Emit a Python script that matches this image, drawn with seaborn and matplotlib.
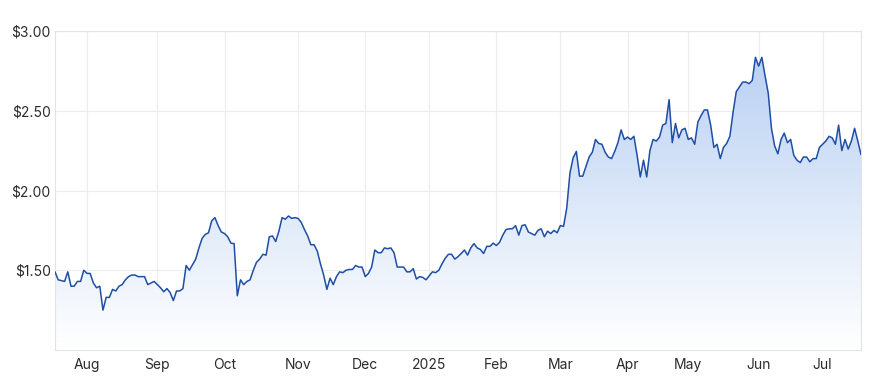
import numpy as np
import pandas as pd
import matplotlib
matplotlib.use("Agg")
import matplotlib.pyplot as plt
import seaborn as sns
from matplotlib.colors import LinearSegmentedColormap
from matplotlib.patches import PathPatch
from matplotlib.path import Path

# ---------------- data ----------------
start_date = "2024-07-18"
end_date = "2025-07-17"
asx_holidays = ["2024-12-25", "2024-12-26", "2025-01-01", "2025-01-27",
                "2025-04-18", "2025-04-21", "2025-04-25", "2025-06-09"]

prices_2024 = [
    1.49, 1.44, 1.435, 1.43, 1.49, 1.40, 1.40, 1.43, 1.43, 1.50, 1.48, 1.48, 1.42, 1.39,
    1.40, 1.25, 1.33, 1.33, 1.38, 1.37, 1.40, 1.41, 1.44, 1.46, 1.47, 1.47, 1.46, 1.46,
    1.46, 1.41, 1.42, 1.43, 1.41, 1.39, 1.365, 1.385, 1.36, 1.31, 1.37, 1.37, 1.385, 1.53,
    1.50, 1.535, 1.57, 1.64, 1.70, 1.725, 1.735, 1.81, 1.83, 1.78, 1.74, 1.73, 1.71, 1.67,
    1.667, 1.34, 1.44, 1.41, 1.43, 1.44, 1.50, 1.55, 1.57, 1.60, 1.595, 1.71, 1.715, 1.68,
    1.745, 1.83, 1.82, 1.84, 1.825, 1.83, 1.825, 1.80, 1.755, 1.715, 1.66, 1.66, 1.62, 1.54,
    1.47, 1.38, 1.45, 1.41, 1.46, 1.49, 1.485, 1.50, 1.505, 1.505, 1.53, 1.52, 1.52, 1.46,
    1.48, 1.52, 1.627, 1.61, 1.61, 1.64, 1.635, 1.64, 1.61, 1.52, 1.52, 1.52, 1.49, 1.49,
    1.51, 1.445, 1.46, 1.455, 1.44,
]
prices_2025 = [
    1.465, 1.49, 1.485, 1.50, 1.54, 1.575, 1.60, 1.60, 1.57, 1.585, 1.605, 1.627, 1.595,
    1.64, 1.667, 1.64, 1.63, 1.605, 1.65, 1.65, 1.67, 1.655, 1.675,
    1.72, 1.755, 1.76, 1.76, 1.78, 1.72, 1.78, 1.785, 1.74, 1.73, 1.72, 1.75, 1.76, 1.71,
    1.745, 1.73, 1.75, 1.735, 1.78, 1.775, 1.89, 2.11, 2.205, 2.245, 2.09, 2.09, 2.15, 2.21,
    2.24, 2.32, 2.295, 2.29, 2.24, 2.21, 2.20, 2.245, 2.30, 2.38, 2.32, 2.335, 2.32, 2.34,
    2.22, 2.085, 2.19, 2.085, 2.25, 2.32, 2.31, 2.335, 2.41, 2.42, 2.57, 2.30, 2.42, 2.33, 2.38,
    2.39, 2.32, 2.33, 2.29, 2.43, 2.47, 2.505, 2.505, 2.41, 2.27, 2.29, 2.20, 2.27, 2.295,
    2.34, 2.49, 2.62, 2.65, 2.68, 2.68, 2.67, 2.69, 2.835, 2.78, 2.835, 2.72, 2.61, 2.39,
    2.28, 2.23, 2.32, 2.36, 2.30, 2.32, 2.22, 2.19, 2.175, 2.21, 2.21, 2.18, 2.20, 2.20,
    2.27, 2.29, 2.31, 2.34, 2.33, 2.29, 2.41, 2.25, 2.32, 2.26, 2.31, 2.39, 2.31, 2.225,
]
month_labels = ["Aug", "Sep", "Oct", "Nov", "Dec", "2025", "Feb", "Mar", "Apr", "May", "Jun", "Jul"]
y_ticks = [1.5, 2.0, 2.5, 3.0]
y_tick_labels = ["$1.50", "$2.00", "$2.50", "$3.00"]

# ---------------- build frame ----------------
dates = pd.bdate_range(start_date, end_date, freq="C", holidays=asx_holidays)
prices = prices_2024 + prices_2025
df = pd.DataFrame({"idx": np.arange(len(dates)), "date": dates, "price": prices})
months = df["date"].dt.to_period("M")
month_starts = df.index[(months != months.shift(1)) & (df.index > 0)].tolist()

# ---------------- plot ----------------
sns.set_theme(style="white")
plt.rcParams["font.family"] = ["Inter", "DejaVu Sans"]

fig = plt.figure(figsize=(8.82, 3.89), dpi=100)
ax = fig.add_axes([55 / 882, 1 - 350 / 389, (861 - 55) / 882, (350 - 31) / 389])

ymin, ymax = 1.0, 3.0
xmax = len(df) - 1

# gradient fill under the line
cmap = LinearSegmentedColormap.from_list("fill", ["#ffffff", "#b4cdf2"])
grad = np.linspace(0, 1, 256).reshape(-1, 1)
im = ax.imshow(grad, extent=[0, xmax, ymin, ymax], origin="lower", aspect="auto",
               cmap=cmap, zorder=1)
verts = [(0, ymin)] + list(zip(df["idx"], df["price"])) + [(xmax, ymin), (0, ymin)]
codes = [Path.MOVETO] + [Path.LINETO] * (len(verts) - 2) + [Path.CLOSEPOLY]
patch = PathPatch(Path(verts, codes), facecolor="none", edgecolor="none")
ax.add_patch(patch)
im.set_clip_path(patch)

sns.lineplot(data=df, x="idx", y="price", ax=ax, color="#1f4ea6", linewidth=1.1, zorder=3)

ax.set_xlim(0, xmax)
ax.set_ylim(ymin, ymax)
ax.set_xticks(month_starts)
ax.set_xticklabels(month_labels)
ax.set_yticks(y_ticks)
ax.set_yticklabels(y_tick_labels)
ax.set_xlabel("")
ax.set_ylabel("")
ax.tick_params(axis="both", length=0, labelsize=10, colors="#2b2b2b")
ax.tick_params(axis="x", pad=6)
ax.tick_params(axis="y", pad=3)
ax.grid(True, color="#ececec", linewidth=0.8, zorder=0)
ax.set_axisbelow(True)
for s in ax.spines.values():
    s.set_color("#e3e3e3")
    s.set_linewidth(0.8)

fig.savefig("out.png", dpi=100, facecolor="white")
